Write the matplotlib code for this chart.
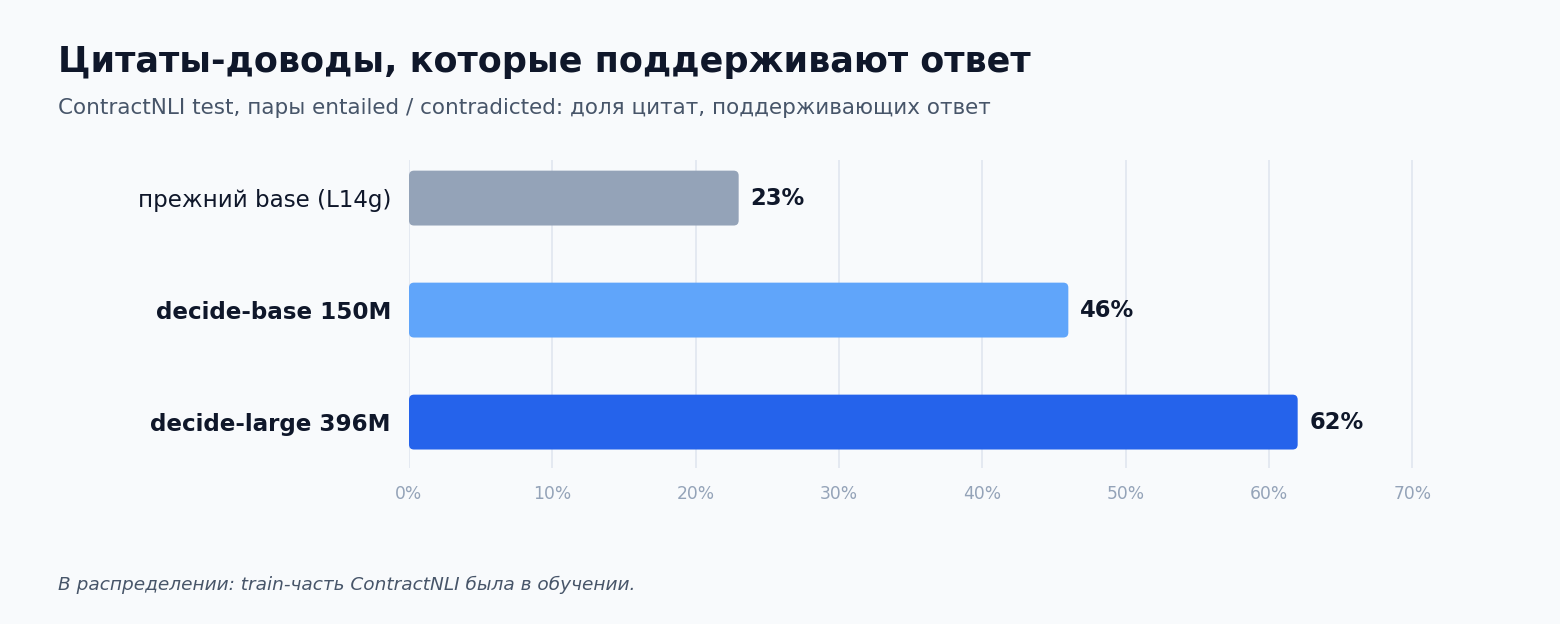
import matplotlib
matplotlib.use("Agg")
from matplotlib import pyplot as plt
from matplotlib.patches import FancyBboxPatch

plt.rcParams["font.family"] = ["DejaVu Sans"]

CATEGORIES = ["прежний base (L14g)", "decide-base 150M", "decide-large 396M"]
VALUES = [23, 46, 62]
BOLD_LABEL = [False, True, True]
COLORS = ["#94a3b8", "#60a5fa", "#2563eb"]
XTICKS = [0, 10, 20, 30, 40, 50, 60, 70]

TITLE = "Цитаты-доводы, которые поддерживают ответ"
SUBTITLE = "ContractNLI test, пары entailed / contradicted: доля цитат, поддерживающих ответ"
NOTE = "В распределении: train-часть ContractNLI была в обучении."

BG = "#f8fafc"
DARK = "#0f172a"
SLATE = "#475569"
MUTED = "#94a3b8"
GRID = "#e2e8f0"


def plot():
    fig = plt.figure(figsize=(15.6, 6.24), dpi=100, facecolor=BG)
    # axes box in pixels: x 409..1441, y 160..468
    ax = fig.add_axes([409 / 1560, 1 - 468 / 624, 1032 / 1560, 308 / 624])
    ax.set_facecolor(BG)
    ax.set_xlim(0, 72)
    ax.set_ylim(2.41, -0.34)

    bar_h = 0.49
    xr = 0.35
    yr = 0.045
    for i, (v, c) in enumerate(zip(VALUES, COLORS)):
        p = FancyBboxPatch((0, i - bar_h / 2), v, bar_h,
                           boxstyle=f"round,pad=0,rounding_size={xr}",
                           mutation_aspect=yr / xr,
                           facecolor=c, edgecolor="none", zorder=3)
        ax.add_patch(p)
        ax.annotate(f"{v}%", (v, i), xytext=(8.5, 0), textcoords="offset points",
                    ha="left", va="center", fontsize=16.3, fontweight="bold",
                    color=DARK, zorder=4)

    ax.set_yticks(range(len(CATEGORIES)))
    ax.set_yticklabels(CATEGORIES, fontsize=16.6, color=DARK)
    for lab, b in zip(ax.get_yticklabels(), BOLD_LABEL):
        if b:
            lab.set_fontweight("bold")
    ax.tick_params(axis="y", length=0, pad=13)

    ax.set_xticks(XTICKS)
    ax.set_xticklabels([f"{t}%" for t in XTICKS], fontsize=12.3, color=MUTED)
    ax.tick_params(axis="x", length=0, pad=12.5)
    ax.grid(axis="x", color=GRID, linewidth=1.3, zorder=0)
    for s in ax.spines.values():
        s.set_visible(False)

    fig.text(58 / 1560, 1 - 62 / 624, TITLE, fontsize=25.2, fontweight="bold",
             color=DARK, ha="left", va="center")
    fig.text(58 / 1560, 1 - 108 / 624, SUBTITLE, fontsize=15.5, color=SLATE,
             ha="left", va="center")
    fig.text(58 / 1560, 1 - 585 / 624, NOTE, fontsize=13.3, style="italic",
             color=SLATE, ha="left", va="center")

    fig.savefig("out.png", dpi=100, facecolor=BG)


if __name__ == "__main__":
    plot()
